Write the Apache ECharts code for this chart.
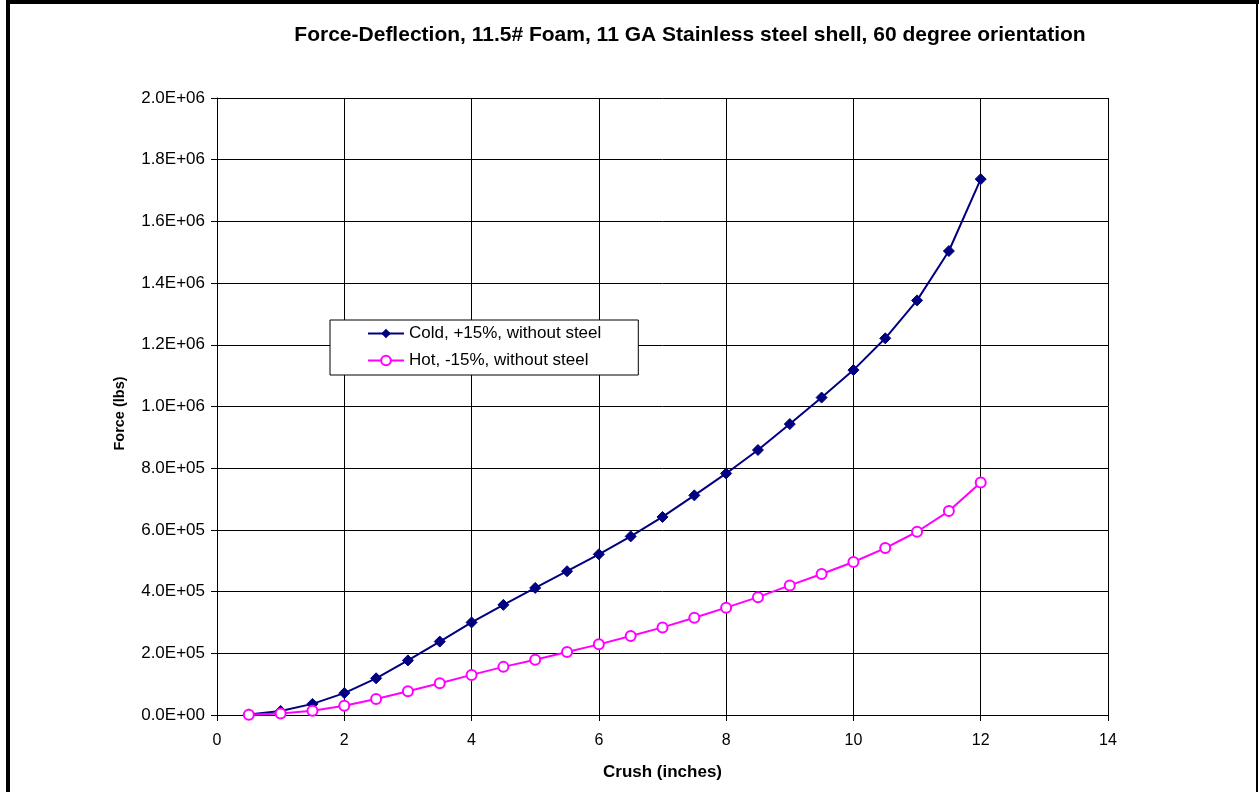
<!DOCTYPE html>
<html>
<head>
<meta charset="utf-8">
<script src="https://cdn.jsdelivr.net/npm/echarts@6/dist/echarts.min.js"></script>
<style>
html,body{margin:0;padding:0;background:#fff;}
#c{width:1259px;height:792px;}
</style>
</head>
<body>
<div id="c"></div>
<script>
const crush = [0.5,1,1.5,2,2.5,3,3.5,4,4.5,5,5.5,6,6.5,7,7.5,8,8.5,9,9.5,10,10.5,11,11.5,12];
const coldForce = [2000,13000,36000,71000,119000,177000,238000,300000,357000,412000,466000,521000,579000,642000,712000,783000,859000,943000,1029000,1118000,1221000,1344000,1504000,1737000];
const hotForce = [1000,5000,14000,30000,52000,77000,103000,130000,156000,179000,204000,229000,256000,284000,315000,348000,382000,420000,457000,496000,541000,594000,661000,754000];
const seriesNames = ['Cold, +15%, without steel','Hot, -15%, without steel'];
const titleText = 'Force-Deflection, 11.5# Foam, 11 GA Stainless steel shell, 60 degree orientation';
const xName = 'Crush (inches)';
const yName = 'Force (lbs)';

function sci(v){
  if (v === 0) return '0.0E+00';
  const e = Math.floor(Math.log10(Math.abs(v)) + 1e-9);
  const m = v / Math.pow(10, e);
  const es = (e < 0 ? '-' : '+') + String(Math.abs(e)).padStart(2,'0');
  return m.toFixed(1) + 'E' + es;
}

const chart = echarts.init(document.getElementById('c'), null, {renderer:'canvas'});
const font = 'Liberation Sans, Arial, sans-serif';
chart.setOption({
  backgroundColor:'#fff',
  animation:false,
  textStyle:{fontFamily:font},
  title:{
    text:titleText, left:685, top:20, textAlign:'center',
    textStyle:{fontSize:21, fontWeight:'bold', color:'#000', fontFamily:font}
  },
  grid:{left:217, right:151, top:98, bottom:77, containLabel:false},
  legend:{
    orient:'vertical', left:330, top:320,
    padding:[5,37,6,37], itemGap:10, itemWidth:36, itemHeight:12,
    borderColor:'#000', borderWidth:1, backgroundColor:'#fff',
    textStyle:{fontSize:17, color:'#000', fontFamily:font},
    data:seriesNames
  },
  xAxis:{
    type:'value', min:0, max:14, interval:2,
    name:xName, nameLocation:'middle', nameGap:49,
    nameTextStyle:{fontSize:17, fontWeight:'bold', color:'#000', fontFamily:font},
    axisLine:{show:true, onZero:false, lineStyle:{color:'#000', width:1}},
    axisTick:{show:true, length:6, inside:false, lineStyle:{color:'#000'}},
    axisLabel:{fontSize:16, color:'#000', margin:18, fontFamily:font},
    splitLine:{show:true, lineStyle:{color:'#000', width:1}}
  },
  yAxis:{
    type:'value', min:0, max:2000000, interval:200000,
    name:yName, nameLocation:'middle', nameGap:90, nameRotate:90,
    nameTextStyle:{fontSize:14.5, fontWeight:'bold', color:'#000', fontFamily:font, padding:[0,14,0,0]},
    axisLine:{show:true, lineStyle:{color:'#000', width:1}},
    axisTick:{show:true, length:6, inside:false, lineStyle:{color:'#000'}},
    axisLabel:{fontSize:17, color:'#000', margin:12, formatter:sci, fontFamily:font},
    splitLine:{show:true, lineStyle:{color:'#000', width:1}}
  },
  series:[
    {
      name:seriesNames[0], type:'line',
      data:crush.map((x,i)=>[x,coldForce[i]]),
      symbol:'diamond', symbolSize:11,
      itemStyle:{color:'#000080', borderColor:'#000080'},
      lineStyle:{color:'#000080', width:2}
    },
    {
      name:seriesNames[1], type:'line',
      data:crush.map((x,i)=>[x,hotForce[i]]),
      symbol:'circle', symbolSize:10,
      itemStyle:{color:'#ffffff', borderColor:'#ff00ff', borderWidth:2},
      lineStyle:{color:'#ff00ff', width:2}
    }
  ],
  graphic:[
    {type:'rect', shape:{x:6, y:0, width:4, height:792}, style:{fill:'#000'}, silent:true},
    {type:'rect', shape:{x:6, y:0, width:1253, height:4}, style:{fill:'#000'}, silent:true},
    {type:'rect', shape:{x:1256, y:0, width:2, height:792}, style:{fill:'#000'}, silent:true}
  ]
});
</script>
</body>
</html>
